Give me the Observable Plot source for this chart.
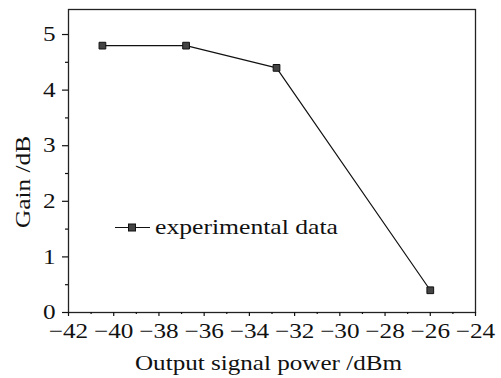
<!DOCTYPE html>
<html><head><meta charset="utf-8">
<script src="https://cdn.jsdelivr.net/npm/d3@7"></script>
<script src="https://cdn.jsdelivr.net/npm/@observablehq/plot@0.6"></script>
<style>body{margin:0;background:#fff} #chart{position:relative;width:501px;height:378px}</style>
</head><body><div id="chart"></div>
<script>
const power = [-40.5, -36.8, -32.8, -26.0];
const gain = [4.8, 4.8, 4.4, 0.4];
const xMajor = [-42, -40, -38, -36, -34, -32, -30, -28, -26, -24];
const xMinor = [-41, -39, -37, -35, -33, -31, -29, -27, -25];
const yMajor = [0, 1, 2, 3, 4, 5];
const yMinor = [0.5, 1.5, 2.5, 3.5, 4.5];
const seriesName = "experimental data";
const xTitle = "Output signal power /dBm";
const yTitle = "Gain /dB";

const data = power.map((p, i) => ({power: p, gain: gain[i]}));
const fmt = d => d < 0 ? "\u2212" + Math.abs(d) : String(d);
const FONT = "'Liberation Serif', 'Times New Roman', serif";

const chart = Plot.plot({
  width: 501, height: 378,
  marginLeft: 68, marginRight: 26, marginTop: 9, marginBottom: 66,
  style: {fontFamily: FONT, fontSize: "21px", background: "#fff", color: "#111"},
  x: {domain: [-42, -24]},
  y: {domain: [0, 5.45]},
  marks: [
    Plot.frame({stroke: "#222", strokeWidth: 1.3}),
    Plot.axisX({ticks: xMajor, tickSize: 4, tickPadding: 7, tickFormat: fmt, label: null, strokeWidth: 1.2}),
    Plot.axisX({ticks: xMinor, tickSize: 2, tickFormat: () => "", label: null, strokeWidth: 1.2}),
    Plot.axisY({ticks: yMajor, tickSize: 6, tickPadding: 7, tickFormat: fmt, label: null, strokeWidth: 1.2}),
    Plot.axisY({ticks: yMinor, tickSize: 3, tickFormat: () => "", label: null, strokeWidth: 1.2}),
    Plot.line(data, {x: "power", y: "gain", stroke: "#111", strokeWidth: 1.2}),
    Plot.dot(data, {x: "power", y: "gain", symbol: "square", r: 3.8, fill: "#444", stroke: "#111", strokeWidth: 1})
  ]
});

document.getElementById("chart").append(chart);
const svg = d3.select(chart);

// horizontal stretch of tick labels to mimic the reference's wide glyphs
svg.selectAll("text").each(function() {
  const len = this.getComputedTextLength();
  if (len > 0) {
    this.setAttribute("textLength", (len * 1.2).toFixed(1));
    this.setAttribute("lengthAdjust", "spacingAndGlyphs");
  }
});

function addText(g, str, attrs, targetLen) {
  const t = g.append("text").attr("fill", "#111").attr("font-family", FONT).attr("font-size", 21).text(str);
  for (const k in attrs) t.attr(k, attrs[k]);
  t.attr("textLength", targetLen).attr("lengthAdjust", "spacingAndGlyphs");
  return t;
}

// axis titles
addText(svg, xTitle, {x: 268.5, y: 370, "text-anchor": "middle"}, 267);
addText(svg, yTitle, {transform: "translate(29.5,182) rotate(-90)", "text-anchor": "middle"}, 92);

// legend
const lg = svg.append("g").attr("class", "legend");
lg.append("line").attr("x1", 115).attr("x2", 150).attr("y1", 227.5).attr("y2", 227.5)
  .attr("stroke", "#111").attr("stroke-width", 1.2);
lg.append("rect").attr("x", 132 - 3.5).attr("y", 227.5 - 3.5).attr("width", 7).attr("height", 7)
  .attr("fill", "#444").attr("stroke", "#111").attr("stroke-width", 1);
addText(lg, seriesName, {x: 155, y: 234, "text-anchor": "start"}, 183);
</script>
</body></html>
